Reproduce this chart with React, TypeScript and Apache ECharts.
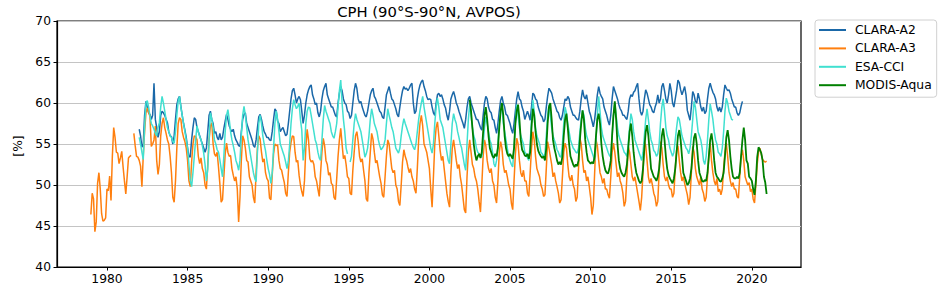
import React, { useEffect, useRef } from 'react';
import * as echarts from 'echarts';

const FONT = '"DejaVu Sans", Verdana, sans-serif';
const TITLE = 'CPH (90°S-90°N, AVPOS)';
const Y_LABEL = '[%]';
const X_TICKS = [1980, 1985, 1990, 1995, 2000, 2005, 2010, 2015, 2020];
const SERIES_NAMES = ['CLARA-A2', 'CLARA-A3', 'ESA-CCI', 'MODIS-Aqua'];
const COLORS = ['#1a68a8', '#ff7f0e', '#40e0d0', '#008000'];

// monthly values, CLARA-A2 from Jan 1982
const CLARA_A2: (number | null)[] = [
  56.8, 56.0, 54.6, 55.0, 58.5, 60.2, 59.5, 58.8, 58.6, 58.0, 58.5, 62.4,
  58.0, 57.0, 55.8, 56.5, 58.5, 59.0, 58.8, 58.5, 58.0, 57.6, 56.5, 56.0,
  55.9, 55.0, 56.0, 58.0, 59.8, 60.5, 60.8, 59.6, 58.5, 57.5, 56.7, 55.8,
  54.5, 53.5, 53.4, 55.5, 57.0, 58.2, 58.0, 57.0, 56.5, 56.0, 55.5, 55.0,
  54.5, 54.0, 54.5, 56.5, 58.5, 59.0, 58.0, 57.5, 56.3, 56.5, 55.8, 55.5,
  56.3, 55.5, 55.8, 56.9, 57.8, 58.6, 58.0, 57.2, 56.8, 56.5, 56.8, 56.0,
  55.5, 55.2, 54.8, 54.7, 56.5, 58.0, 58.6, 58.8, 57.5, 57.0, 56.5, 56.0,
  55.5, 54.8, 54.6, 55.5, 57.0, 58.3, 58.6, 58.0, 57.2, 56.5, 56.2, 55.8,
  55.8, 55.5, 55.4, 56.5, 58.0, 59.3, 59.0, 57.8, 57.5, 56.5, 56.8, 57.0,
  56.5, 56.0, 56.2, 57.5, 59.0, 60.5, 61.5, 61.8, 61.0, 60.0, 60.5, 60.8,
  60.4, 59.0, 57.5, 58.5, 60.0, 61.0, 61.6, 62.0, 62.2, 61.0, 60.5, 59.8,
  60.0, 58.8, 58.3, 59.0, 60.5, 61.5, 62.0, 62.4, 61.0, 60.5, 60.0, 59.5,
  59.5, 59.0, 58.5, 58.3, 60.0, 61.2, 62.0, 61.5, 60.5, 60.0, 59.8, 59.0,
  58.8, 58.1, 58.5, 60.0, 61.5, 62.4, 61.8, 60.5, 60.0, 60.2, 59.5, 59.0,
  58.5, 58.3, 59.0, 60.0, 61.0, 61.5, 61.8, 60.8, 60.5, 60.0, 59.5, 59.0,
  58.8, 58.3, 58.1, 59.5, 61.0, 61.5, 62.0, 61.2, 60.5, 60.3, 59.8, 59.3,
  58.6, 58.3, 59.5, 60.6, 61.5, 62.0, 61.7, 61.8, 61.5, 61.8, 62.2, 62.4,
  60.0, 58.7, 59.0, 60.5, 61.5, 62.2, 62.6, 62.8, 62.0, 61.5, 60.8, 60.4,
  60.5, 60.4, 59.5, 58.8, 58.5, 60.0, 61.0, 61.2, 60.8, 61.0, 60.5, 59.8,
  59.4, 58.5, 57.9, 59.0, 60.5, 61.0, 61.4, 60.8, 60.0, 59.6, 59.0, 58.5,
  58.0, 57.5, 56.9, 58.0, 59.5, 60.5, 60.8, 60.0, 59.5, 59.0, 58.5, 58.0,
  58.0, 57.5, 57.0, 56.7, 58.5, 60.0, 60.8, 60.5, 59.5, 59.0, 58.8, 58.0,
  57.9, 57.0, 56.3, 57.5, 59.0, 60.3, 60.8, 60.0, 59.5, 58.6, 58.5, 58.0,
  57.5, 56.8, 56.3, 57.5, 59.0, 60.5, 61.4, 60.5, 60.3, 59.5, 59.0, 58.0,
  58.5, 59.0, 58.5, 57.9, 59.5, 61.2, 61.0, 60.5, 60.3, 59.5, 59.0, 58.5,
  58.3, 57.7, 58.0, 59.5, 60.8, 61.8, 61.5, 61.2, 60.5, 60.0, 59.5, 59.0,
  58.8, 58.2, 57.9, 58.5, 59.5, 60.5, 60.3, 60.8, 60.5, 59.5, 59.0, 58.5,
  58.5, 58.2, 58.0, 57.9, 59.0, 60.5, 61.6, 60.8, 60.5, 61.0, 60.0, 59.0,
  58.5, 57.8, 57.1, 58.0, 59.5, 61.0, 62.0, 61.2, 60.8, 60.5, 59.5, 59.0,
  58.5, 57.8, 57.3, 58.5, 60.5, 62.0, 61.5, 61.0, 60.5, 59.8, 59.3, 59.0,
  58.5, 58.5, 58.2, 58.0, 59.0, 60.5, 61.0, 60.8, 61.3, 61.5, 62.0, 62.4,
  60.5, 59.0, 58.5, 59.0, 60.5, 61.6, 61.2, 60.5, 59.8, 59.5, 59.0, 58.8,
  59.5, 60.0, 61.0, 60.0, 60.5, 62.0, 62.4, 61.5, 60.5, 60.0, 61.0, 62.4,
  61.5, 60.0, 59.5, 60.5, 61.5, 62.8, 62.5, 61.6, 61.0, 61.5, 62.0, 61.0,
  59.1, 58.5, 57.9, 59.5, 61.4, 61.0, 60.2, 60.0, 61.2, 60.5, 59.5, 59.0,
  59.5, 58.7, 59.0, 60.5, 61.8, 62.4, 61.8, 61.3, 61.0, 60.5, 59.5, 59.0,
  59.5, 58.9, 59.5, 61.0, 62.2, 61.8, 61.5, 61.6, 61.2, 60.5, 60.0, 59.5,
  59.5, 58.8, 58.5, 58.8, 59.6, 60.2,
];

// monthly values, CLARA-A3 from Jan 1979
const CLARA_A3: (number | null)[] = [
  46.4, 49.0, 48.3, 44.3, 45.5, 50.2, 51.5, 49.5, 46.5, 45.6, 45.7, 46.0,
  49.5, 49.3, 51.1, 48.1, 53.5, 57.0, 55.8, 54.0, 53.9, 52.6, 53.3, 54.1,
  52.2, 50.5, 48.9, 51.0, 53.3, 53.5, 53.6, null, 56.3, 54.8, 53.5, 53.4,
  53.0, 52.3, 49.8, 53.5, 56.5, 58.8, 59.4, 58.8, 58.4, 54.7, 55.0, 55.5,
  57.2, 53.0, 51.3, 52.5, 56.0, 57.5, 58.2, 57.0, 56.3, 55.5, 55.0, 53.5,
  51.5, 48.5, 47.9, 50.5, 54.5, 57.5, 58.2, 58.0, 56.5, 55.8, 55.3, 54.5,
  53.0, 50.5, 49.8, 52.8, 55.0, 56.0, 55.9, 55.5, 53.5, 52.6, 53.3, 52.0,
  51.5, 50.0, 49.5, 52.5, 55.5, 57.2, 57.6, 55.0, 53.8, 53.5, 54.0, 52.2,
  50.2, 47.9, 48.2, 51.0, 53.8, 55.1, 54.0, 53.5, 53.6, 52.0, 51.2, 50.5,
  51.0, 49.5, 45.5, 48.5, 53.0, 56.0, 55.5, 54.5, 53.0, 52.8, 51.0, 50.5,
  50.0, 48.5, 47.8, 51.5, 54.5, 56.0, 55.6, 54.0, 52.8, 53.2, 51.5, 50.8,
  50.5, 48.4, 48.2, 51.2, 53.8, 55.0, 54.8, 54.9, 53.0, 52.0, 51.8, 51.0,
  50.3, 49.0, 48.6, 51.5, 54.0, 55.2, 56.0, 55.9, 54.0, 52.8, 53.0, 51.2,
  50.0, 49.2, 48.6, 50.5, 54.5, 56.8, 55.5, 53.2, 52.8, 53.0, 52.5, 51.0,
  50.5, 49.5, 48.6, 51.5, 54.0, 55.7, 54.8, 53.0, 52.5, 51.2, 51.5, 50.2,
  50.0, 48.5, 48.2, 50.8, 53.5, 55.5, 56.9, 55.0, 53.2, 53.6, 52.5, 51.0,
  50.8, 49.0, 48.8, 51.8, 54.0, 56.0, 56.5, 55.3, 53.5, 52.8, 53.2, 51.8,
  50.5, 48.3, 48.0, 51.5, 54.0, 56.3, 55.6, 54.0, 52.7, 53.0, 52.0, 51.0,
  50.2, 48.8, 48.5, 51.0, 53.5, 55.5, 55.0, 53.5, 52.0, 51.5, 51.8, 50.0,
  49.5, 48.0, 47.5, 50.0, 52.8, 54.3, 53.5, 53.0, 52.2, 51.5, 52.0, 51.0,
  50.5, 49.5, 49.0, 52.0, 55.5, 57.5, 58.5, 57.2, 55.0, 54.5, 54.0, 53.0,
  52.0, 49.5, 47.3, 51.0, 55.0, 57.0, 57.7, 56.0, 54.2, 53.0, 53.5, 52.0,
  50.5, 49.0, 48.0, 47.3, 51.5, 54.5, 55.5, 54.3, 53.0, 52.0, 52.5, 51.0,
  50.0, 48.5, 47.0, 46.6, 51.0, 54.0, 55.5, 54.0, 52.5, 52.0, 51.0, 50.5,
  49.5, 48.0, 46.7, 50.0, 53.5, 55.5, 54.8, 53.0, 52.0, 51.5, 52.0, 50.5,
  50.0, 48.5, 47.8, 50.5, 54.0, 55.3, 54.5, 52.5, 51.5, 51.8, 51.0, 50.0,
  49.5, 47.8, 47.0, 50.5, 53.8, 55.7, 55.0, 53.0, 51.5, 51.0, 51.8, 50.5,
  50.5, 49.0, 48.6, 51.5, 54.5, 56.5, 55.5, 53.5, 52.0, 51.5, 51.0, 50.0,
  49.5, 48.6, 48.8, 52.0, 55.3, 54.5, 53.5, 52.5, 51.0, 51.5, 50.5, 49.8,
  49.0, 47.8, 48.2, 51.0, 54.0, 55.1, 54.5, 52.5, 51.0, 50.5, 51.2, 50.0,
  49.5, 48.0, 48.5, 52.0, 55.7, 55.0, 53.0, 51.5, 51.8, 50.5, 51.0, 49.8,
  48.5, 46.4, 47.5, 51.5, 55.5, 54.8, 53.0, 51.5, 51.0, 50.2, 50.8, 49.5,
  49.5, 48.8, 48.4, 51.0, 54.0, 55.1, 54.0, 52.5, 51.0, 51.5, 50.5, 50.0,
  49.0, 47.4, 48.0, 51.0, 54.7, 54.0, 52.5, 51.0, 50.5, 51.0, 50.0, 49.0,
  48.0, 46.9, 48.5, 51.5, 55.3, 54.8, 53.0, 51.0, 50.2, 50.8, 50.0, 49.0,
  48.5, 47.4, 48.0, 51.5, 55.3, 54.5, 52.5, 51.0, 50.5, 51.0, 50.0, 49.5,
  49.5, 48.5, 49.0, 52.0, 54.2, 54.8, 53.0, 51.5, 50.5, 51.0, 50.2, 49.5,
  48.8, 47.6, 48.5, 51.5, 54.7, 54.0, 52.0, 51.0, 50.5, 50.0, 51.0, 49.5,
  49.0, 48.0, 48.5, 51.0, 53.5, 55.1, 53.0, 51.5, 50.5, 50.0, 50.8, 49.2,
  49.5, 48.8, 49.5, 52.0, 54.0, 55.1, 53.5, 51.5, 50.5, 49.8, 50.3, 49.5,
  49.5, 48.6, 48.4, 51.0, 53.5, 54.3, 53.0, 51.0, 50.5, 50.0, 50.3, 49.2,
  49.5, 48.3, 47.8, 50.0, 52.5, 54.0, 54.5, 53.8, 53.1, 52.9, 52.8, 52.9,
];

// monthly values, ESA-CCI from Jan 1982
const ESA_CCI: (number | null)[] = [
  55.8, 55.0, 54.0, 53.1, 57.0, 60.0, 60.3, 59.5, 58.4, 57.5, 57.2, 56.8,
  56.3, 56.0, 57.0, 57.6, 59.5, 60.8, 60.0, 59.0, 58.0, 57.0, 56.5, 56.0,
  55.8, 55.3, 55.1, 56.5, 58.5, 60.2, 60.8, 59.5, 58.5, 57.5, 56.5, 55.5,
  54.5, 52.5, 50.5, 49.8, 51.5, 53.5, 55.5, 57.2, 56.5, 55.9, 55.5, 54.8,
  53.9, 52.5, 50.5, 51.9, 55.5, 58.8, 58.0, 57.0, 55.5, 55.0, 54.3, 54.0,
  53.1, 52.0, 51.0, 53.5, 56.5, 58.5, 59.2, 58.0, 56.5, 55.5, 54.8, 54.0,
  53.0, 52.5, 51.8, 53.0, 56.0, 58.5, 59.6, 58.5, 57.0, 55.5, 54.5, 53.5,
  52.5, 51.5, 50.8, 50.4, 54.0, 57.5, 58.5, 57.5, 56.0, 55.0, 54.2, 53.0,
  52.0, 51.3, 50.2, 51.5, 54.5, 57.5, 59.0, 58.0, 56.5, 55.0, 54.5, 54.0,
  53.5, 52.8, 52.0, 52.9, 55.0, 57.5, 59.3, 60.4, 59.8, 59.3, 59.6, 60.0,
  58.0, 56.7, 53.0, 54.5, 57.5, 59.0, 59.5, 59.4, 58.5, 57.5, 56.5, 55.5,
  55.0, 54.0, 53.3, 53.0, 55.5, 58.0, 59.7, 59.0, 58.5, 58.0, 57.5, 56.5,
  56.0, 55.7, 56.5, 57.5, 59.5, 61.5, 62.8, 60.0, 58.0, 56.5, 54.5, 53.8,
  null, 52.8, 53.5, 55.5, 57.5, 58.7, 58.0, 57.5, 57.0, 56.5, 55.5, 54.5,
  53.4, 53.8, 54.5, 56.0, 58.0, 59.3, 58.5, 57.5, 57.0, 56.5, 55.5, 54.8,
  54.3, 54.5, 54.8, 55.5, 57.5, 59.3, 58.5, 57.8, 57.0, 56.5, 55.5, 54.5,
  54.2, 53.9, 54.5, 56.0, 57.2, 58.1, 57.5, 57.0, 56.5, 56.0, 55.5, 55.0,
  54.6, 54.3, 55.0, 56.5, 58.0, 59.1, 60.0, 60.8, 59.5, 58.5, 57.5, 56.5,
  55.5, 54.5, 53.9, 55.0, 57.5, 59.5, 60.6, 59.5, 58.0, 57.5, 57.0, 56.0,
  55.0, 54.0, 53.0, 52.6, 55.0, 57.5, 58.7, 58.0, 57.5, 56.5, 55.8, 55.0,
  54.5, 53.5, 52.5, 51.8, 55.0, 58.0, 59.9, 58.5, 57.0, 56.0, 55.5, 54.5,
  54.0, 53.8, 53.5, 53.4, 55.0, 57.0, 58.3, 57.5, 56.5, 55.5, 55.0, 54.0,
  52.6, 52.2, 53.0, 55.0, 57.5, 59.0, 59.4, 57.5, 56.5, 55.5, 54.5, 53.5,
  53.0, 52.5, 52.2, 54.5, 57.5, 59.8, 58.5, 57.0, 56.0, 55.5, 55.0, 54.0,
  53.8, 53.3, 53.0, 55.0, 58.0, 60.4, 59.0, 57.0, 56.0, 55.5, 55.0, 54.0,
  53.8, 53.4, 53.8, 56.0, 58.5, 59.8, 58.5, 57.0, 56.0, 55.5, 55.0, 54.3,
  54.0, 53.5, 53.4, 55.0, 57.5, 59.5, 58.8, 57.5, 56.5, 55.5, 55.0, 54.5,
  54.3, 54.0, 53.9, 54.5, 56.5, 58.0, 59.1, 58.5, 57.0, 56.0, 55.5, 55.0,
  54.5, 54.0, 53.5, 53.0, 55.5, 58.5, 60.8, 59.0, 57.0, 56.0, 55.5, 55.0,
  54.5, 54.0, 53.6, 53.4, 56.0, 58.5, 60.0, 58.5, 57.0, 56.0, 55.5, 55.0,
  54.5, 54.0, 53.8, 53.5, 55.0, 57.0, 58.7, 58.0, 56.5, 55.5, 55.0, 54.5,
  54.0, 53.5, 53.0, 54.0, 56.0, 58.0, 59.3, 58.0, 56.5, 55.5, 55.0, 54.2,
  54.0, 53.5, 53.8, 55.0, 57.5, 59.5, 60.5, 59.0, 57.0, 56.0, 55.5, 54.5,
  54.0, 53.5, 54.0, 55.5, 57.0, 58.3, 58.0, 57.0, 56.0, 55.5, 55.0, 54.5,
  54.3, 53.8, 54.5, 56.0, 58.0, 60.2, 59.5, 58.0, 56.5, 56.0, 55.5, 54.5,
  53.0, 52.5, 53.5, 55.5, 58.0, 59.9, 59.0, 58.0, 56.5, 55.5, 55.0, 54.0,
  53.8, 53.5, 54.5, 56.5, 59.0, 60.6, 60.0, 59.0, 58.5, 58.0, 57.9,
];

// monthly values, MODIS-Aqua from Jul 2002
const MODIS_AQUA: (number | null)[] = [
  60.4, 59.0, 57.0, 55.0, 53.8, 53.0,
  53.5, 53.8, 53.3, 54.0, 56.5, 58.5, 59.5, 58.0, 56.0, 54.5, 54.0, 53.5,
  53.3, 53.8, 53.5, 54.5, 57.0, 59.0, 60.0, 58.5, 56.0, 54.5, 53.8, 53.5,
  53.8, 53.5, 53.2, 54.5, 57.5, 59.0, 59.8, 58.0, 55.5, 54.3, 54.0, 53.6,
  53.5, 53.8, 53.2, 54.0, 57.0, 59.3, 58.5, 56.5, 55.0, 54.2, 53.8, 53.5,
  53.3, 53.5, 53.0, 54.5, 57.5, 59.5, 60.0, 58.0, 55.5, 54.5, 53.8, 53.0,
  52.5, 52.8, 52.5, 53.5, 56.0, 58.0, 58.7, 57.0, 55.0, 53.5, 53.0, 52.5,
  52.2, 52.5, 52.3, 53.0, 55.5, 57.5, 59.1, 58.0, 55.5, 54.0, 53.0, 52.8,
  52.6, 52.8, 52.6, 53.5, 56.0, 58.0, 58.7, 57.5, 55.0, 53.5, 52.5, 51.8,
  51.5, 51.4, 52.0, 53.0, 56.0, 58.5, 60.2, 58.0, 55.0, 53.0, 52.0, 51.5,
  51.2, 51.0, 51.5, 52.5, 54.5, 56.5, 57.5, 56.0, 54.0, 52.5, 51.5, 51.0,
  50.5, 50.2, 50.5, 52.0, 54.5, 56.5, 57.3, 56.0, 54.0, 52.0, 51.5, 51.0,
  50.8, 50.5, 51.0, 52.0, 54.0, 56.0, 56.9, 55.5, 53.5, 52.0, 51.2, 50.8,
  50.5, 50.2, 50.8, 52.0, 54.0, 56.0, 56.7, 55.5, 53.5, 51.5, 51.0, 50.5,
  50.0, 50.2, 50.8, 52.0, 54.0, 55.8, 56.3, 55.0, 53.0, 51.5, 51.0, 50.5,
  50.4, 50.6, 50.5, 51.5, 53.5, 55.5, 56.3, 55.0, 53.0, 51.5, 51.0, 50.8,
  50.5, 50.4, 50.8, 51.5, 53.5, 55.8, 56.7, 55.5, 53.5, 52.0, 51.0, 50.8,
  50.8, 51.0, 50.8, 51.5, 53.5, 55.5, 57.0, 55.5, 53.0, 52.6, 51.0, 50.8,
  50.5, 49.5, 48.8, 50.5, 53.4, 54.6, 54.3, 53.9, 53.0, 51.0, 50.3, 48.9,
];

const monthly = (y0: number, m0: number, vals: (number | null)[]) =>
  vals.map((v, i) => [y0 + (m0 - 1 + i) / 12, v === null ? '-' : v]);

const SOURCES = [
  { data: monthly(1982, 1, CLARA_A2), width: 1.5 },
  { data: monthly(1979, 1, CLARA_A3), width: 1.5 },
  { data: monthly(1982, 1, ESA_CCI), width: 1.5 },
  { data: monthly(2002, 7, MODIS_AQUA), width: 1.8 },
];

export default function App() {
  const ref = useRef<HTMLDivElement>(null);
  useEffect(() => {
    const chart = echarts.init(ref.current!, null, { renderer: 'svg' });
    chart.setOption({
      animation: false,
      backgroundColor: '#ffffff',
      textStyle: { fontFamily: FONT },
      grid: {
        left: 57, right: 150, top: 21, bottom: 22,
        show: true, borderColor: '#000', borderWidth: 1.2, backgroundColor: 'transparent',
      },
      xAxis: {
        type: 'value', min: 1976.9, max: 2023.05,
        axisLine: { show: true, lineStyle: { color: '#000', width: 1.2 } },
        axisTick: { show: true, length: 3.5, lineStyle: { color: '#000', width: 1 }, customValues: X_TICKS },
        axisLabel: {
          customValues: X_TICKS, margin: 6, fontSize: 12.3, color: '#000', fontFamily: FONT,
          formatter: (v: number) => String(Math.round(v)),
        },
        splitLine: { show: false },
      },
      yAxis: {
        type: 'value', min: 40, max: 70, interval: 5,
        axisLine: { show: true, lineStyle: { color: '#000', width: 1.2 } },
        axisTick: { show: true, length: 3.5, lineStyle: { color: '#000', width: 1 } },
        axisLabel: { margin: 6, fontSize: 12.3, color: '#000', fontFamily: FONT },
        splitLine: { show: true, lineStyle: { color: '#c4c4c4', width: 1 } },
      },
      legend: {
        orient: 'vertical', left: 815, top: 20,
        padding: [3, 5, 5, 4],
        itemWidth: 27, itemHeight: 2, itemGap: 4.4,
        icon: 'rect',
        backgroundColor: '#fff', borderColor: '#d0d0d0', borderWidth: 1, borderRadius: 3,
        selectedMode: false,
        textStyle: { fontSize: 12.3, color: '#000', fontFamily: FONT, lineHeight: 14, padding: [0, 0, 0, 4] },
        data: SERIES_NAMES,
      },
      graphic: [
        {
          type: 'text', x: 429, y: 11, silent: true,
          style: { text: TITLE, fill: '#000', fontSize: 14.8, fontFamily: FONT, align: 'center', verticalAlign: 'middle' },
        },
        {
          type: 'text', x: 17.5, y: 146, rotation: Math.PI / 2, silent: true,
          style: { text: Y_LABEL, fill: '#000', fontSize: 12.3, fontFamily: FONT, align: 'center', verticalAlign: 'middle' },
        },
      ],
      series: SOURCES.map((s, i) => ({
        name: SERIES_NAMES[i],
        type: 'line',
        data: s.data,
        symbol: 'none',
        showSymbol: false,
        connectNulls: false,
        silent: true,
        z: 2 + i,
        lineStyle: { color: COLORS[i], width: s.width },
        itemStyle: { color: COLORS[i] },
      })),
    });
    return () => chart.dispose();
  }, []);
  return (
    <div
      ref={ref}
      style={{ position: 'fixed', left: 0, top: 0, width: 951, height: 289, background: '#fff' }}
    />
  );
}
